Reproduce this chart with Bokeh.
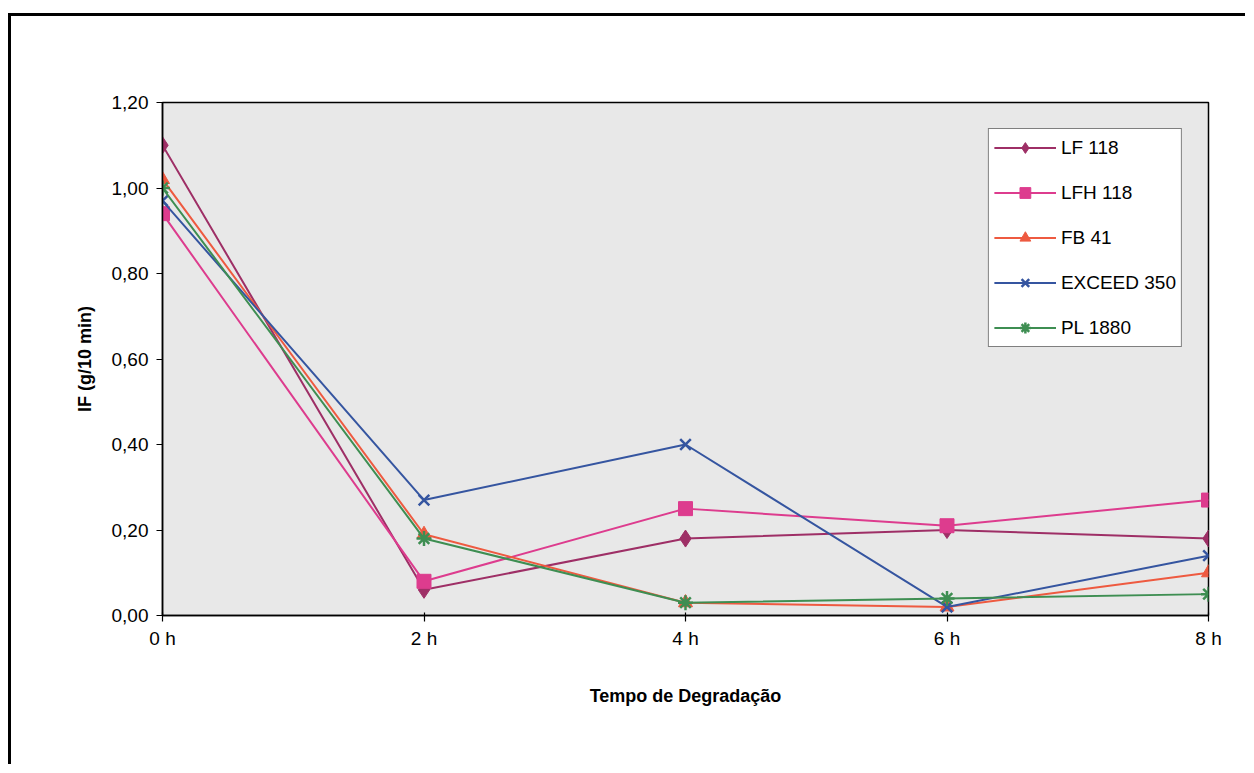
from bokeh.plotting import figure
from bokeh.models import Range1d, FixedTicker, Legend
from bokeh.embed import file_html
from bokeh.resources import INLINE

times = [0, 1, 2, 3, 4]
time_labels = ["0 h", "2 h", "4 h", "6 h", "8 h"]

lf118 = [1.10, 0.06, 0.18, 0.20, 0.18]
lfh118 = [0.94, 0.08, 0.25, 0.21, 0.27]
fb41 = [1.02, 0.19, 0.03, 0.02, 0.10]
exceed350 = [0.97, 0.27, 0.40, 0.02, 0.14]
pl1880 = [1.00, 0.18, 0.03, 0.04, 0.05]

series_names = ["LF 118", "LFH 118", "FB 41", "EXCEED 350", "PL 1880"]
series_values = [lf118, lfh118, fb41, exceed350, pl1880]
colors = ["#9E2F66", "#DD3C8E", "#EE5A40", "#3555A0", "#3E8E52"]
markers = ["diamond", "square", "triangle", "x", "asterisk"]
sizes = [17, 14, 14, 15, 15]

FONT = "Liberation Sans"

# outer chart border drawn as CSS border on the figure element (offset 8px left, 13px top)
OFF_X, OFF_Y, BW = 8, 13, 3
W = 1254 - OFF_X - BW - 6
H = 773 - OFF_Y - BW - 6

p = figure(width=W, height=H, output_backend="svg", toolbar_location=None,
           x_range=Range1d(0, 4), y_range=Range1d(0, 1.2),
           min_border_left=162 - OFF_X - BW, min_border_right=W - (1208 - OFF_X - BW),
           min_border_top=102 - OFF_Y - BW, min_border_bottom=H - (615 - OFF_Y - BW))
p.styles = {"margin-left": f"{OFF_X}px", "margin-top": f"{OFF_Y}px",
            "border-left": f"{BW}px solid black", "border-top": f"{BW}px solid black"}

p.background_fill_color = "#E8E8E8"
p.border_fill_color = "white"
p.outline_line_color = "black"
p.outline_line_width = 1.5
p.grid.visible = False

items = []
for name, vals, c, m, s in zip(series_names, series_values, colors, markers, sizes):
    r1 = p.line(times, vals, line_color=c, line_width=2)
    lw = 2.5 if m in ("x", "asterisk") else 1
    r2 = p.scatter(times, vals, marker=m, size=s, fill_color=c, line_color=c, line_width=lw)
    items.append((name, [r1, r2]))

legend = Legend(items=items, location="top_right")
legend.margin = 26
legend.padding = 5
legend.spacing = 18
legend.glyph_height = 27
legend.glyph_width = 62
legend.label_standoff = 5
legend.label_text_font = FONT
legend.label_text_font_size = "19px"
legend.label_text_color = "black"
legend.border_line_color = "black"
legend.border_line_width = 1.2
legend.background_fill_color = "white"
legend.background_fill_alpha = 1
p.add_layout(legend)

# x axis
p.xaxis.ticker = FixedTicker(ticks=times)
p.xaxis.major_label_overrides = {t: l for t, l in zip(times, time_labels)}
p.xaxis.axis_label = "Tempo de Degradação"
p.xaxis.axis_label_text_font = FONT
p.xaxis.axis_label_text_font_style = "bold"
p.xaxis.axis_label_text_font_size = "18px"
p.xaxis.axis_label_standoff = 34
p.xaxis.major_label_text_font = FONT
p.xaxis.major_label_text_font_size = "19px"
p.xaxis.major_label_standoff = 6
p.xaxis.major_tick_in = 3
p.xaxis.major_tick_out = 6
p.xaxis.minor_tick_line_color = None

# y axis
yticks = [0.0, 0.2, 0.4, 0.6, 0.8, 1.0, 1.2]
p.yaxis.ticker = FixedTicker(ticks=yticks)
p.yaxis.major_label_overrides = {t: f"{t:.2f}".replace(".", ",") for t in yticks}
p.yaxis.axis_label = "IF (g/10 min)"
p.yaxis.axis_label_text_font = FONT
p.yaxis.axis_label_text_font_style = "bold"
p.yaxis.axis_label_text_font_size = "18px"
p.yaxis.axis_label_standoff = 14
p.yaxis.major_label_text_font = FONT
p.yaxis.major_label_text_font_size = "19px"
p.yaxis.major_label_standoff = 8
p.yaxis.major_tick_in = 0
p.yaxis.major_tick_out = 6
p.yaxis.minor_tick_line_color = None

for ax in (p.xaxis, p.yaxis):
    ax.axis_line_width = 1.5
    ax.major_tick_line_width = 1.2
    ax.major_label_text_color = "black"
    ax.axis_label_text_color = "black"

open("out.html", "w").write(file_html(p, INLINE))
